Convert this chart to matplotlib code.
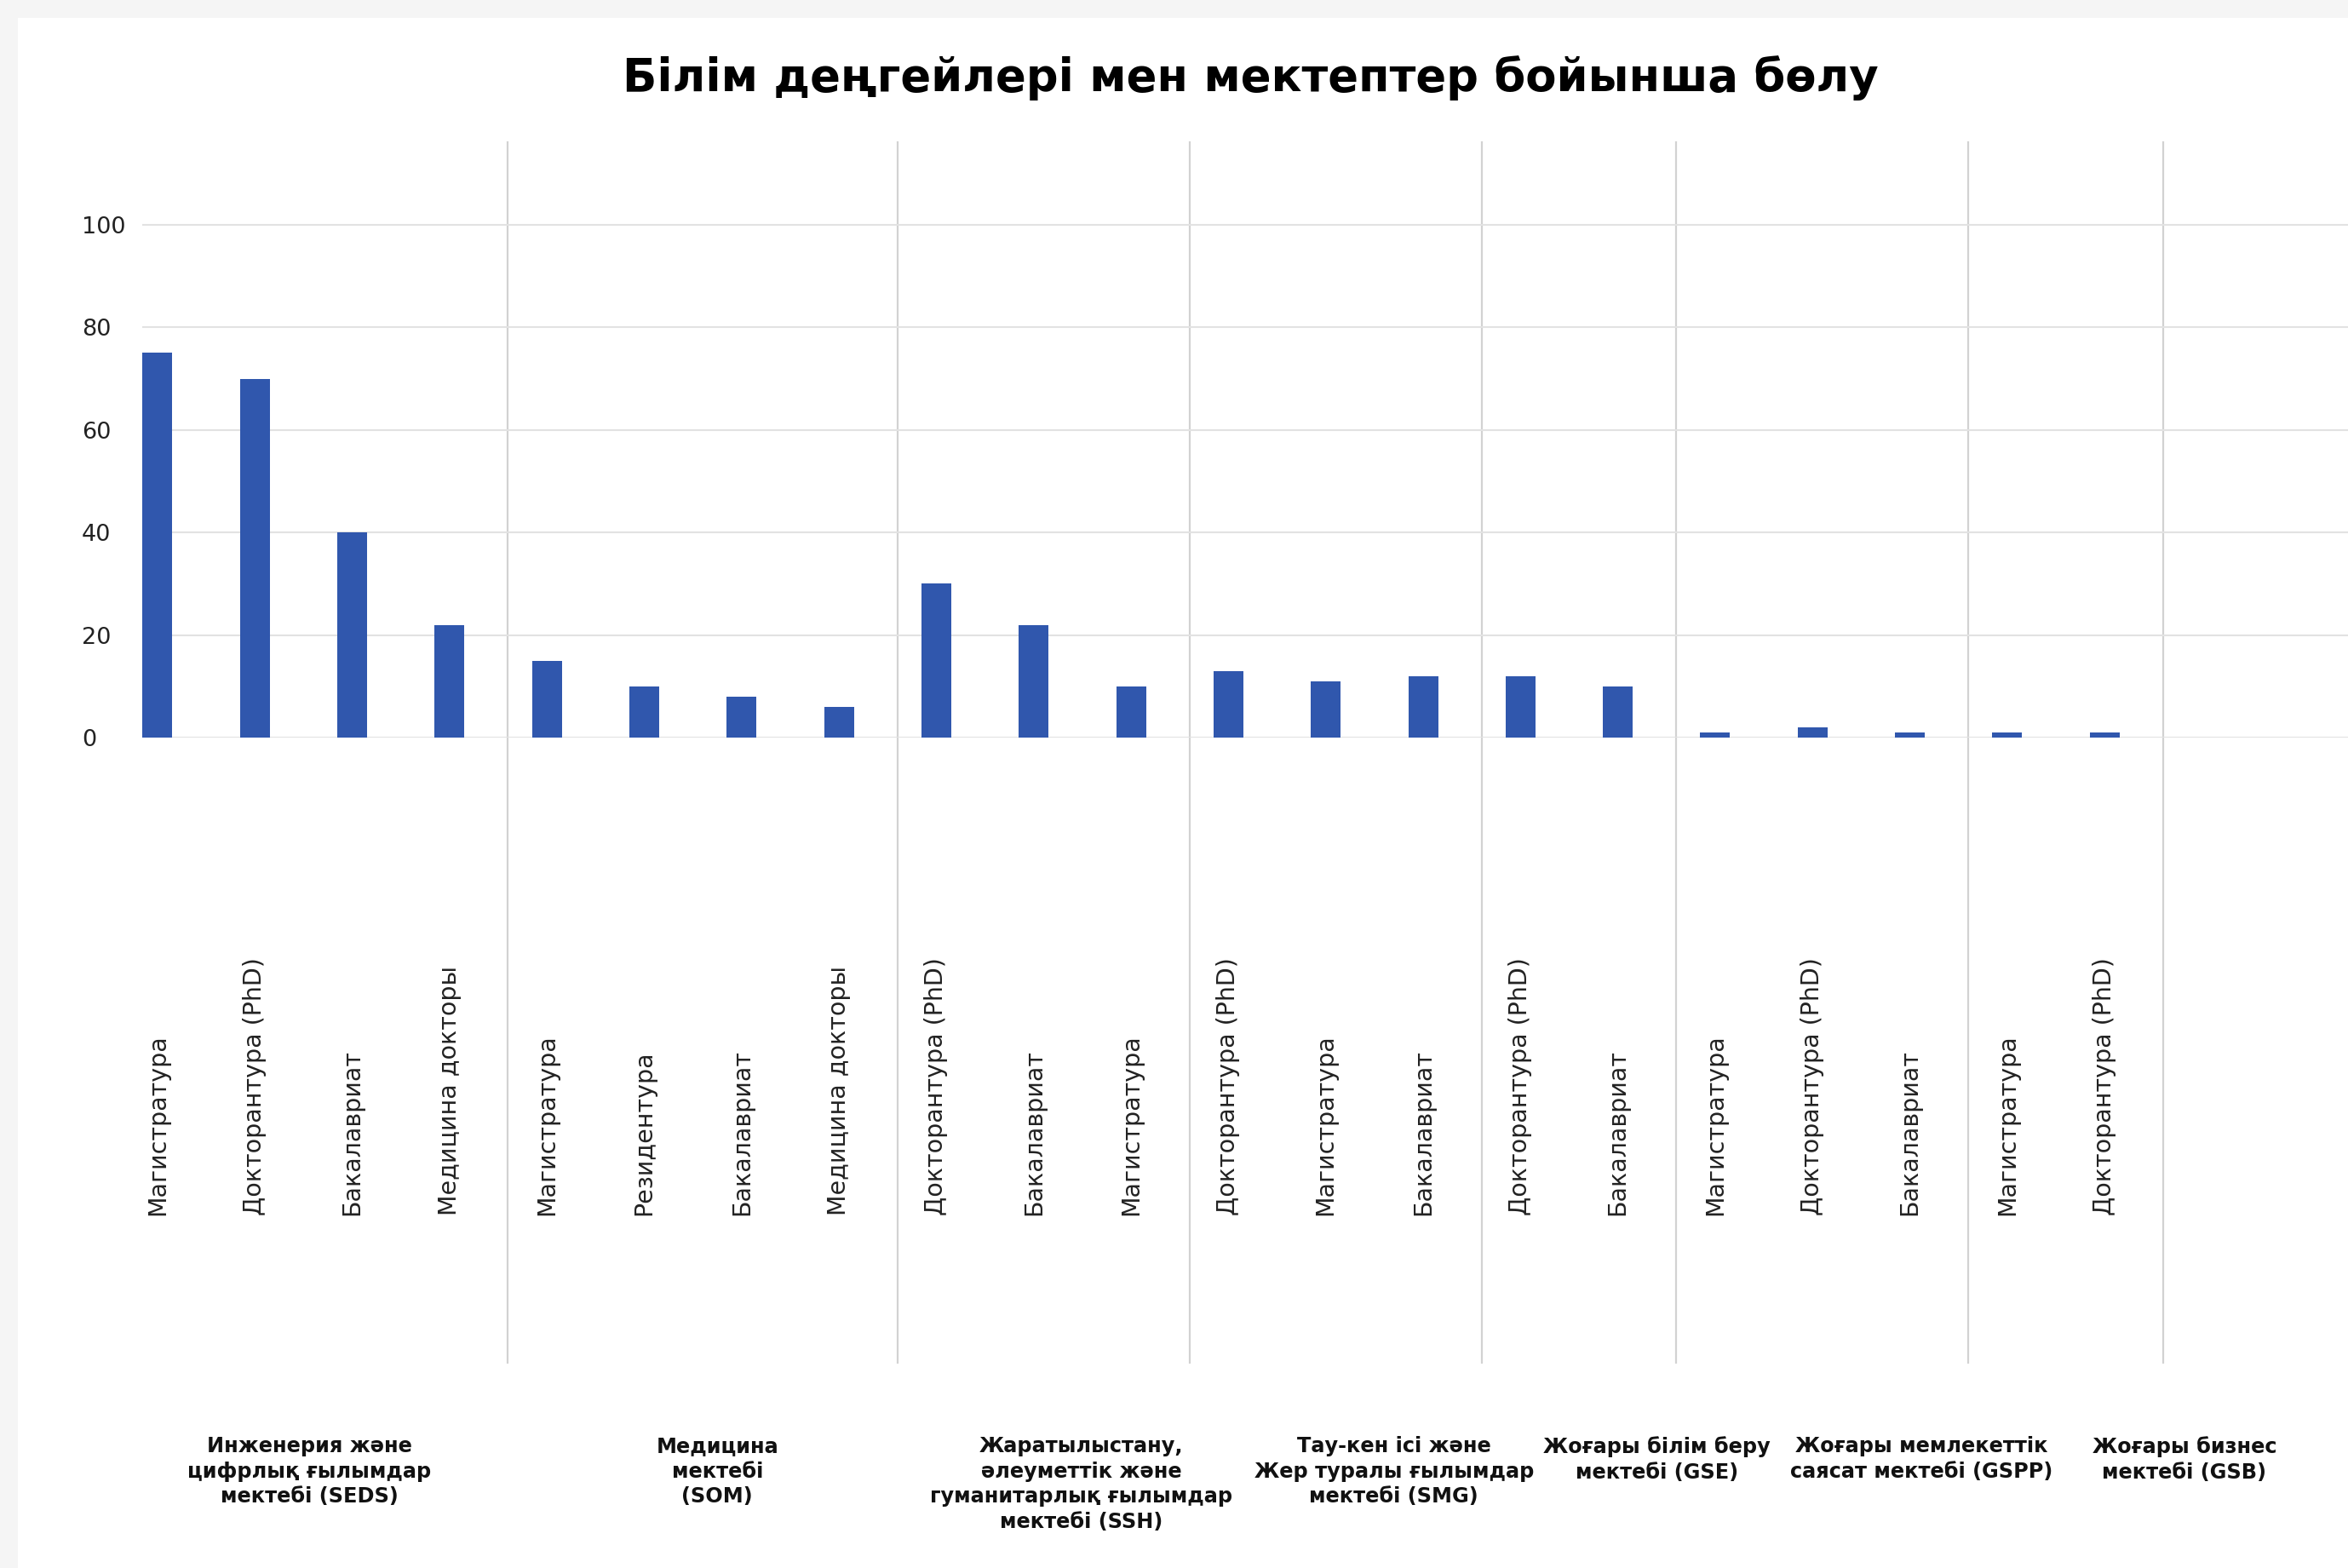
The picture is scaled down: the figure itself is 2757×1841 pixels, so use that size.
import matplotlib.pyplot as plt
import matplotlib.transforms as mtransforms
from matplotlib.patches import Rectangle
import numpy as np

W, H = 2757, 1841
DPI = 100

# data
levels = ['Магистратура', 'Докторантура (PhD)', 'Бакалавриат', 'Медицина докторы',
          'Магистратура', 'Резидентура', 'Бакалавриат', 'Медицина докторы',
          'Докторантура (PhD)', 'Бакалавриат', 'Магистратура',
          'Докторантура (PhD)', 'Магистратура', 'Бакалавриат',
          'Докторантура (PhD)', 'Бакалавриат',
          'Магистратура', 'Докторантура (PhD)', 'Бакалавриат',
          'Магистратура', 'Докторантура (PhD)']
values = [75, 70, 40, 22,
          15, 10, 8, 6,
          30, 22, 10,
          13, 11, 12,
          12, 10,
          1, 2, 1,
          1, 1]
schools = ['Инженерия және\nцифрлық ғылымдар\nмектебі (SEDS)',
           'Медицина\nмектебі\n(SOM)',
           'Жаратылыстану,\nәлеуметтік және\nгуманитарлық ғылымдар\nмектебі (SSH)',
           'Тау-кен ісі және\nЖер туралы ғылымдар\nмектебі (SMG)',
           'Жоғары білім беру\nмектебі (GSE)',
           'Жоғары мемлекеттік\nсаясат мектебі (GSPP)',
           'Жоғары бизнес\nмектебі (GSB)']
group_sizes = [4, 4, 3, 3, 2, 3, 2]
# where the school names sit along the category axis
school_x = [1.56, 5.75, 9.49, 12.7, 15.4, 18.12, 20.82]

BAR_COLOR = '#3057ad'

def fx(px):
    return px / W

def fy(py):
    return 1 - py / H

fig = plt.figure(figsize=(W / DPI, H / DPI), dpi=DPI)
fig.patch.set_facecolor('#f5f5f5')
fig.add_artist(Rectangle((fx(21), 0), 1 - fx(21), fy(21), transform=fig.transFigure,
                         facecolor='white', edgecolor='none', zorder=-10))

ax_left, ax_top, ax_bottom = 167, 167, 866
ax = fig.add_axes([fx(ax_left), fy(ax_bottom), 1 - fx(ax_left), fy(ax_top) - fy(ax_bottom)])
ax.set_facecolor('white')

x = np.arange(len(values))
ax.bar(x, values, width=0.306, color=BAR_COLOR, zorder=3)

ax.set_xlim(-0.157, 22.5)
ax.set_ylim(0, 116.1)
ax.set_yticks([0, 20, 40, 60, 80, 100])
ax.yaxis.grid(True, color='#e2e2e2', linewidth=1.5, zorder=0)
ax.set_xticks([])
ax.tick_params(axis='y', length=0, pad=51, labelsize=19.5, labelcolor='#222222')
for lab in ax.get_yticklabels():
    lab.set_ha('left')
for s in ax.spines.values():
    s.set_visible(False)

trans = mtransforms.blended_transform_factory(ax.transData, ax.transAxes)

# rotated level labels
label_y = (ax_bottom - 1427) / (ax_bottom - ax_top)
for xi, lev in zip(x, levels):
    ax.text(xi, label_y, lev, transform=trans, rotation=90, ha='center', va='bottom',
            fontsize=20.5, color='#222222', clip_on=False)

# group separators
sep_bottom = (ax_bottom - 1600) / (ax_bottom - ax_top)
bounds = np.cumsum(group_sizes) - 0.4
for b in bounds:
    ax.plot([b, b], [sep_bottom, 1], transform=trans, color='#d2d2d2', linewidth=1.6,
            clip_on=False, zorder=1)

# school names
name_y = (ax_bottom - 1686) / (ax_bottom - ax_top)
for sx, name in zip(school_x, schools):
    ax.text(sx, name_y, name, transform=trans, ha='center', va='top', multialignment='center',
            fontsize=17.3, fontweight='bold', linespacing=1.3, color='#111111', clip_on=False)

fig.text(fx(1468), fy(107), 'Білім деңгейлері мен мектептер бойынша бөлу', ha='center',
         va='baseline', fontsize=38.1, fontweight='bold', color='black')

fig.savefig('out.png', dpi=DPI, facecolor=fig.get_facecolor())
print('out.png generated')
